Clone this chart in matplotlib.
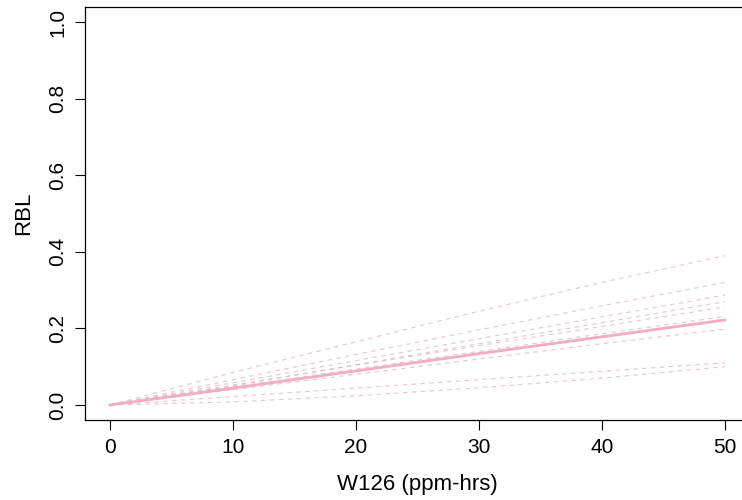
import numpy as np
import matplotlib
matplotlib.use('Agg')
import matplotlib.pyplot as plt

plt.rcParams['font.family'] = ['Liberation Sans', 'DejaVu Sans']

w126 = [0, 10, 20, 30, 40, 50]

# RBL for each species curve
rbl_curves = [
    [0, 0.085, 0.165, 0.245, 0.320, 0.390],
    [0, 0.066, 0.132, 0.196, 0.259, 0.320],
    [0, 0.058, 0.116, 0.173, 0.230, 0.287],
    [0, 0.050, 0.105, 0.160, 0.215, 0.270],
    [0, 0.052, 0.104, 0.155, 0.205, 0.256],
    [0, 0.047, 0.094, 0.140, 0.186, 0.231],
    [0, 0.045, 0.090, 0.135, 0.180, 0.224],
    [0, 0.040, 0.080, 0.120, 0.160, 0.198],
    [0, 0.022, 0.044, 0.066, 0.088, 0.110],
    [0, 0.008, 0.024, 0.045, 0.070, 0.100],
]
# median curve (thick solid)
rbl_median = [0, 0.044, 0.089, 0.134, 0.178, 0.222]

fig = plt.figure(figsize=(7.42, 5.0), dpi=100)
ax = fig.add_axes([85.4 / 742, (500 - 420.3) / 500, 664.2 / 742, 413.6 / 500])

for c in rbl_curves:
    ax.plot(w126, c, color='#dbb3c0', lw=0.8, ls=(0, (4, 4)), alpha=0.75)
ax.plot(w126, rbl_median, color='#f2adc2', lw=2.0)

ax.set_xlim(-2, 52)
ax.set_ylim(-0.04, 1.04)
ax.set_xticks(np.arange(0, 51, 10))
ax.set_yticks(np.arange(0, 1.01, 0.2))
ax.set_yticklabels(['0.0', '0.2', '0.4', '0.6', '0.8', '1.0'], rotation=90, va='center')
ax.tick_params(direction='out', length=7, width=0.8, labelsize=15, pad=6)
for s in ax.spines.values():
    s.set_linewidth(0.9)

ax.set_xlabel('W126 (ppm-hrs)', fontsize=16, labelpad=12)
ax.set_ylabel('RBL', fontsize=16, labelpad=10)

fig.savefig('out.png', dpi=100)
